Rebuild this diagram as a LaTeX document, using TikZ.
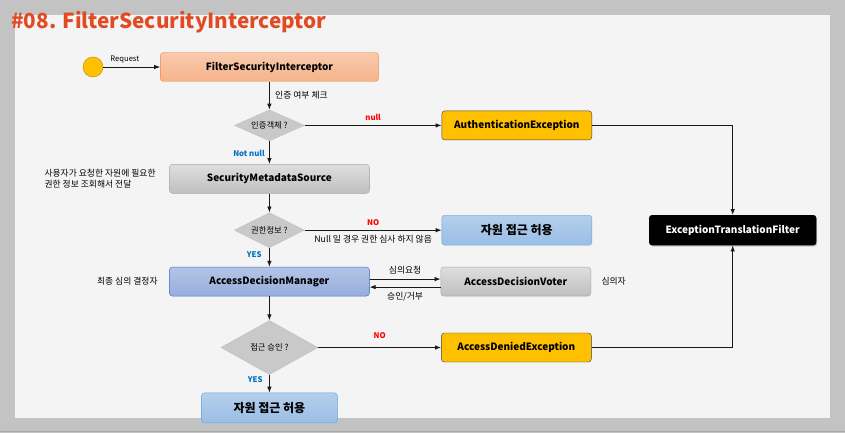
\documentclass[tikz,border=0pt]{standalone}
\usepackage{fontspec}
\setmainfont{Noto Sans CJK KR}
\usetikzlibrary{arrows.meta, positioning, shapes.geometric, shadows}
\definecolor{frame}{HTML}{C3C3C3}
\definecolor{panel}{HTML}{F4F4F4}
\definecolor{ttl}{HTML}{E04B24}
\definecolor{fsi}{HTML}{F08A4B}
\definecolor{meta}{HTML}{A8A8A8}
\definecolor{mgr}{HTML}{4A72C4}
\definecolor{ok}{HTML}{6A9FD8}
\definecolor{exc}{HTML}{FFC000}
\definecolor{yesc}{HTML}{0070C0}
\definecolor{noc}{HTML}{FF0000}

\begin{document}
\begin{tikzpicture}[
    x = 1pt, y = -1pt,
    > = {Latex[length=6pt, width=4.5pt]},
    box/.style     = {draw, rounded corners=3pt, align=center, inner sep=2pt,
                      font=\bfseries\fontsize{10}{12}\selectfont, minimum height=29pt},
    fsibox/.style  = {box, draw=fsi, top color=fsi!45, bottom color=fsi!65, minimum width=218pt},
    metabox/.style = {box, draw=meta, top color=black!13, bottom color=black!25, minimum width=200pt},
    mgrbox/.style  = {box, draw=mgr, top color=mgr!42, bottom color=mgr!58, minimum width=200pt},
    okbox/.style   = {box, draw=ok, top color=ok!50, bottom color=ok!68, minimum height=30pt,
                      font=\fontsize{12}{14}\selectfont\bfseries},
    excbox/.style  = {box, draw=black!75, fill=exc, minimum width=150pt},
    etfbox/.style  = {box, fill=black, text=white, minimum width=167pt, minimum height=30pt,
                      drop shadow={shadow xshift=1pt, shadow yshift=-1.5pt, opacity=.35}},
    decision/.style= {diamond, fill=black!21, draw=black!25, inner sep=0pt, aspect=2.2,
                      font=\fontsize{8.3}{10}\selectfont},
    startdot/.style= {circle, fill=exc, draw=exc!70!black, minimum size=20pt, inner sep=0pt},
    flow/.style    = {->, line width=0.9pt, draw=black!90},
    note/.style    = {font=\fontsize{8.8}{10.5}\selectfont},
    yes/.style     = {font=\bfseries\fontsize{7.8}{9}\selectfont, text=yesc},
    no/.style      = {font=\bfseries\fontsize{7.8}{9}\selectfont, text=noc},
]
\useasboundingbox (0,0) rectangle (845,433);

% --------------------------------------------- frame ---------------------------------------------
\fill[frame] (0,0) rectangle (845,433);
\fill[panel] (15,15) rectangle (830,418);
\draw[black!35, line width=0.8pt] (0,431) -- (845,431);
\node[anchor=west, text=ttl, font=\bfseries\fontsize{20.7}{23}\selectfont, inner sep=0pt]
    (title) at (11,22) {\#08. FilterSecurityInterceptor};

% ------------------------------------------- main column -------------------------------------------
\node[startdot] (req) at (93,67) {};
\node[fsibox, right=57pt of req]   (fsi)   {FilterSecurityInterceptor};
\node[decision, minimum width=70pt, minimum height=31pt, below=28pt of fsi] (auth?) {인증객체 ?};
\node[metabox, below=23pt of auth?] (sms)  {SecurityMetadataSource};
\node[decision, minimum width=70pt, minimum height=35pt, below=19pt of sms] (attr?) {권한정보 ?};
\node[mgrbox, below=19pt of attr?]  (adm)  {AccessDecisionManager};
\node[decision, minimum width=97pt, minimum height=54pt, below=24pt of adm] (grant?) {접근 승인 ?};
\node[okbox, minimum width=136pt, below=18pt of grant?] (ok2) {자원 접근 허용};

% ------------------------------------------- right column ------------------------------------------
\node[excbox, right=137pt of auth?] (authex) {AuthenticationException};
\node[okbox, minimum width=150pt, right=137pt of attr?] (ok1) {자원 접근 허용};
\node[metabox, minimum width=150pt, right=71pt of adm] (adv) {AccessDecisionVoter};
\node[excbox, right=123pt of grant?] (denied) {AccessDeniedException};
\node[etfbox, right=57pt of ok1] (etf) {ExceptionTranslationFilter};

% --------------------------------------------- notes ---------------------------------------------
\node[note, align=left, left=10pt of sms] (smsnote) {사용자가 요청한 자원에 필요한\\권한 정보 조회해서 전달};
\node[note, left=8pt of adm] (admnote) {최종 심의 결정자};
\node[note, right=7pt of adv] (advnote) {심의자};

% --------------------------------------------- arrows ---------------------------------------------
\draw[flow] (req) -- node[note, font=\fontsize{7.6}{9}\selectfont, above, pos=0.38] {Request} (fsi);
\draw[flow] (fsi) -- node[note, right, xshift=2pt] {인증 여부 체크} (auth?);
\draw[flow] (auth?) -- node[no, above, yshift=1pt] {null} (authex);
\draw[flow] (auth?) -- node[yes, left, xshift=-1pt, yshift=-1pt] {Not null} (sms);
\draw[flow] (sms) -- (attr?);
\draw[flow] (attr?) -- node[no, above, yshift=1pt] {NO}
                       node[note, below, yshift=-1pt] {Null 일 경우 권한 심사 하지 않음} (ok1);
\draw[flow] (attr?) -- node[yes, left, xshift=-4pt, yshift=3pt] {YES} (adm);
\draw[flow] ([yshift=2.5pt]adm.east) -- node[note, above, yshift=1pt] {심의요청} ([yshift=2.5pt]adv.west);
\draw[flow] ([yshift=-5.5pt]adv.west) -- node[note, below, yshift=-1pt] {승인/거부} ([yshift=-5.5pt]adm.east);
\draw[flow] (adm) -- (grant?);
\draw[flow] (grant?) -- node[no, above, yshift=5pt] {NO} (denied);
\draw[flow] (grant?) -- node[yes, left, xshift=-3pt, yshift=4pt] {YES} (ok2);
\draw[flow] (authex) -| (etf);
\draw[flow] (denied) -| (etf);

\end{tikzpicture}
\end{document}
